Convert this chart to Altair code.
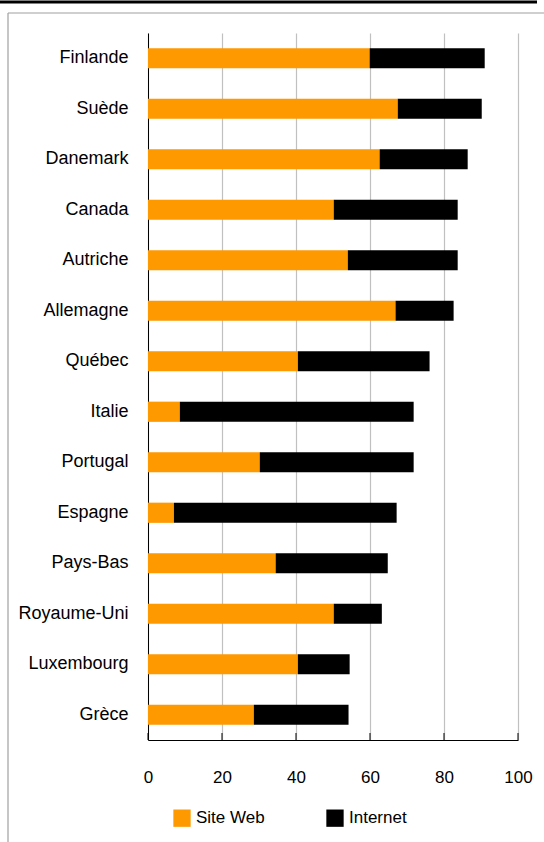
import altair as alt
import pandas as pd

countries = ["Finlande", "Suède", "Danemark", "Canada", "Autriche", "Allemagne", "Québec",
             "Italie", "Portugal", "Espagne", "Pays-Bas", "Royaume-Uni", "Luxembourg", "Grèce"]
site_web = [59.9, 67.5, 62.6, 50.2, 54.0, 66.9, 40.5, 8.6, 30.2, 7.0, 34.5, 50.2, 40.5, 28.6]
internet = [31.1, 22.7, 23.8, 33.5, 29.7, 15.7, 35.6, 63.2, 41.6, 60.2, 30.3, 13.0, 14.0, 25.6]
series = ["Site Web", "Internet"]
colors = ["#FF9900", "#000000"]
ticks = [0, 20, 40, 60, 80, 100]

rows = []
for c, s, i in zip(countries, site_web, internet):
    rows.append({"pays": c, "serie": series[0], "valeur": s, "ord": 0})
    rows.append({"pays": c, "serie": series[1], "valeur": i, "ord": 1})
df = pd.DataFrame(rows)

FONT = "Liberation Sans"

bars = alt.Chart(df).mark_bar().encode(
    y=alt.Y("pays:N", sort=countries, title=None,
            scale=alt.Scale(paddingInner=0.6, paddingOuter=0.3),
            axis=alt.Axis(ticks=False, labelPadding=20, labelFontSize=18, labelFont=FONT,
                          labelColor="#000000", domainColor="#000000", domainWidth=1,
                          labelLimit=200)),
    x=alt.X("valeur:Q", stack="zero", title=None,
            scale=alt.Scale(domain=[0, 100], nice=False),
            axis=alt.Axis(values=ticks, ticks=False, labelPadding=29, labelFontSize=17,
                          labelFont=FONT, labelColor="#000000", domainColor="#000000",
                          grid=True, gridColor="#C0C0C0", gridWidth=1.2,
                          labelFlush=False)),
    color=alt.Color("serie:N", scale=alt.Scale(domain=series, range=colors),
                    legend=alt.Legend(title=None, orient="none", legendX=25, legendY=776,
                                      direction="horizontal", symbolType="square",
                                      symbolSize=300, symbolStrokeWidth=0, symbolOpacity=1,
                                      labelFont=FONT, labelFontSize=17, labelColor="#000000",
                                      labelOffset=5, columnPadding=61, padding=0,
                                      offset=0)),
    order=alt.Order("ord:Q"),
)

tick_df = pd.DataFrame({"t": ticks})
tickmarks = alt.Chart(tick_df).mark_rule(color="#000000", strokeWidth=1).encode(
    x=alt.X("t:Q"),
    y=alt.value(700),
    y2=alt.value(707),
)

frame_df = pd.DataFrame({"k": [0]})
gray_top = alt.Chart(frame_df).mark_rule(color="#A0A0A0", strokeWidth=1.2).encode(
    x=alt.value(-140), x2=alt.value(400), y=alt.value(-20))
gray_left = alt.Chart(frame_df).mark_rule(color="#A0A0A0", strokeWidth=1.2).encode(
    x=alt.value(-140), y=alt.value(-20), y2=alt.value(820))
black_top = alt.Chart(frame_df).mark_rule(color="#000000", strokeWidth=3).encode(
    x=alt.value(-148), x2=alt.value(389), y=alt.value(-31))

chart = alt.layer(bars, tickmarks, gray_top, gray_left, black_top).properties(
    width=370, height=707,
    autosize=alt.AutoSizeParams(type="none"),
    padding={"left": 148, "top": 33, "right": 26, "bottom": 102},
    background="#FFFFFF",
).configure_view(stroke=None).configure_axis(domainWidth=1)

chart.save("out.html", embed_options={"renderer": "svg", "actions": False})
